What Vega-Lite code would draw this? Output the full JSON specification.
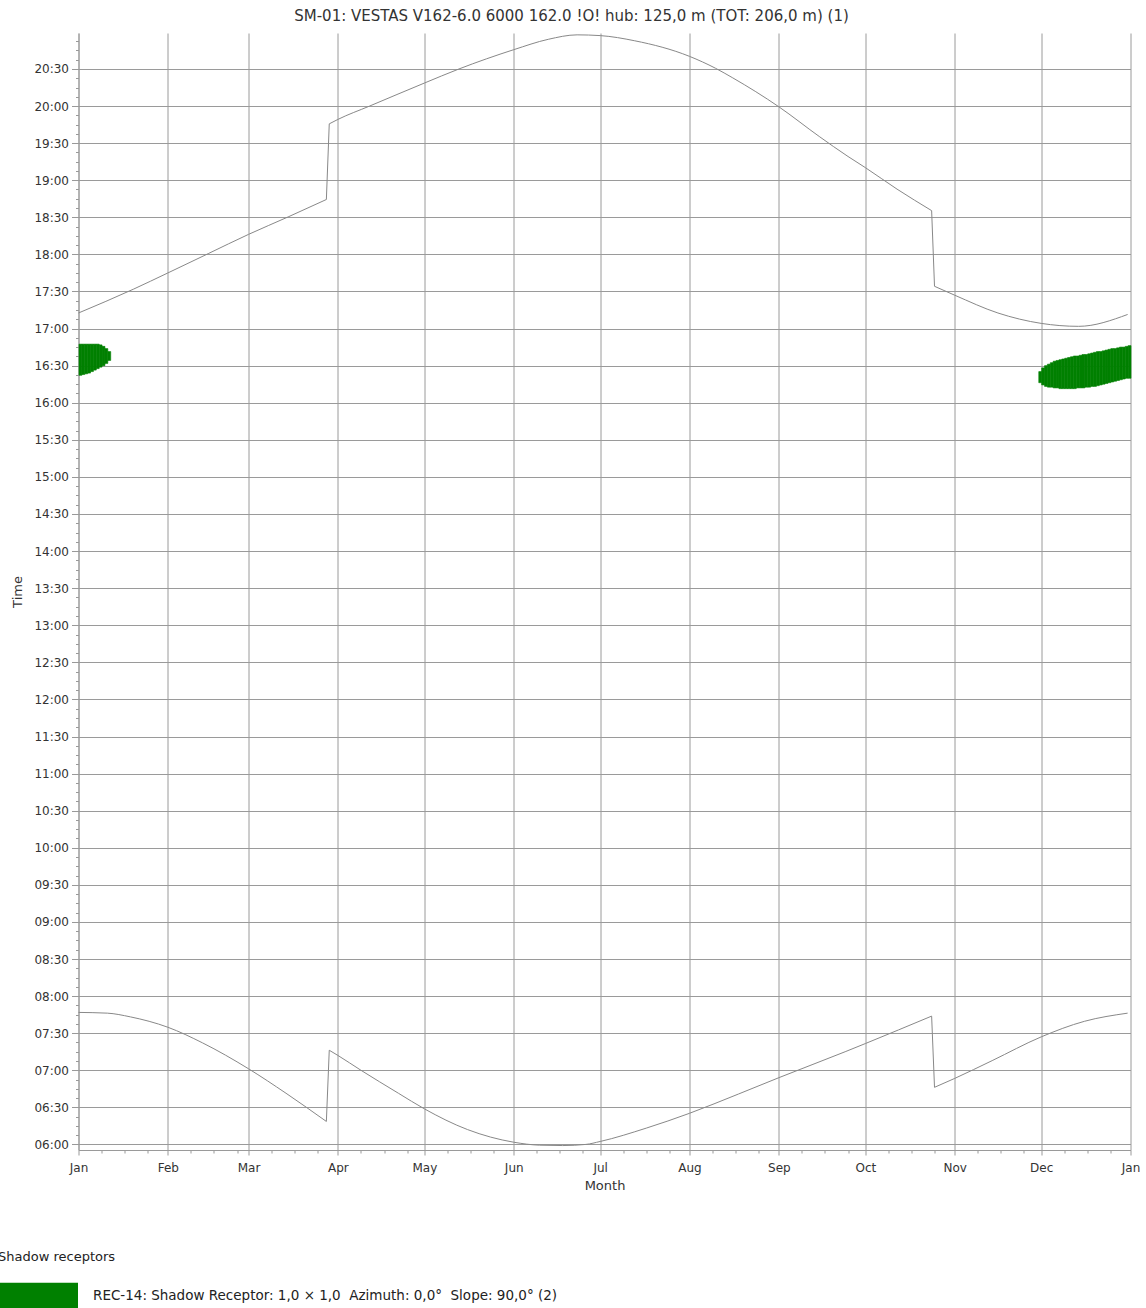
{
  "$schema": "https://vega.github.io/schema/vega-lite/v6.json",
  "width": 1052,
  "height": 1117,
  "autosize": {"type": "none"},
  "padding": {"left": 78.5, "top": 33, "right": 15.5, "bottom": 158},
  "background": "white",
  "config": {"view": {"stroke": null}},
  "title": {
    "text": "SM-01: VESTAS V162-6.0 6000 162.0 !O! hub: 125,0 m (TOT: 206,0 m) (1)",
    "font": "DejaVu Sans", "fontSize": 15, "fontWeight": "normal", "color": "#333333",
    "anchor": "middle", "dx": -33, "offset": 9
  },
  "datasets": {
    "shadow": [
      {"date": "2026-01-01", "start": 16.37, "end": 16.79},
      {"date": "2026-01-02", "start": 16.38, "end": 16.79},
      {"date": "2026-01-03", "start": 16.39, "end": 16.79},
      {"date": "2026-01-04", "start": 16.40, "end": 16.79},
      {"date": "2026-01-05", "start": 16.42, "end": 16.79},
      {"date": "2026-01-06", "start": 16.44, "end": 16.79},
      {"date": "2026-01-07", "start": 16.46, "end": 16.79},
      {"date": "2026-01-08", "start": 16.48, "end": 16.78},
      {"date": "2026-01-09", "start": 16.50, "end": 16.76},
      {"date": "2026-01-10", "start": 16.53, "end": 16.73},
      {"date": "2026-01-11", "start": 16.57, "end": 16.69},
      {"date": "2026-11-30", "start": 16.27, "end": 16.42},
      {"date": "2026-12-01", "start": 16.24, "end": 16.47},
      {"date": "2026-12-02", "start": 16.22, "end": 16.50},
      {"date": "2026-12-03", "start": 16.21, "end": 16.52},
      {"date": "2026-12-04", "start": 16.21, "end": 16.54},
      {"date": "2026-12-05", "start": 16.20, "end": 16.56},
      {"date": "2026-12-06", "start": 16.20, "end": 16.57},
      {"date": "2026-12-07", "start": 16.19, "end": 16.58},
      {"date": "2026-12-08", "start": 16.19, "end": 16.59},
      {"date": "2026-12-09", "start": 16.19, "end": 16.60},
      {"date": "2026-12-10", "start": 16.19, "end": 16.61},
      {"date": "2026-12-11", "start": 16.19, "end": 16.62},
      {"date": "2026-12-12", "start": 16.19, "end": 16.63},
      {"date": "2026-12-13", "start": 16.20, "end": 16.63},
      {"date": "2026-12-14", "start": 16.20, "end": 16.64},
      {"date": "2026-12-15", "start": 16.20, "end": 16.65},
      {"date": "2026-12-16", "start": 16.21, "end": 16.65},
      {"date": "2026-12-17", "start": 16.21, "end": 16.66},
      {"date": "2026-12-18", "start": 16.22, "end": 16.67},
      {"date": "2026-12-19", "start": 16.22, "end": 16.68},
      {"date": "2026-12-20", "start": 16.23, "end": 16.69},
      {"date": "2026-12-21", "start": 16.24, "end": 16.69},
      {"date": "2026-12-22", "start": 16.25, "end": 16.70},
      {"date": "2026-12-23", "start": 16.26, "end": 16.71},
      {"date": "2026-12-24", "start": 16.27, "end": 16.72},
      {"date": "2026-12-25", "start": 16.28, "end": 16.73},
      {"date": "2026-12-26", "start": 16.29, "end": 16.73},
      {"date": "2026-12-27", "start": 16.30, "end": 16.74},
      {"date": "2026-12-28", "start": 16.31, "end": 16.75},
      {"date": "2026-12-29", "start": 16.32, "end": 16.75},
      {"date": "2026-12-30", "start": 16.33, "end": 16.76},
      {"date": "2026-12-31", "start": 16.33, "end": 16.77}
    ],
    "sun": [
      {"s": "sunset-1", "date": "2026-01-01", "time": 17.21},
      {"s": "sunset-1", "date": "2026-01-20", "time": 17.53},
      {"s": "sunset-1", "date": "2026-02-01", "time": 17.75},
      {"s": "sunset-1", "date": "2026-02-15", "time": 18.01},
      {"s": "sunset-1", "date": "2026-03-01", "time": 18.27},
      {"s": "sunset-1", "date": "2026-03-15", "time": 18.51},
      {"s": "sunset-1", "date": "2026-03-28", "time": 18.74},
      {"s": "sunset-dst1", "date": "2026-03-28", "time": 18.74},
      {"s": "sunset-dst1", "date": "2026-03-29", "time": 19.76},
      {"s": "sunset-2", "date": "2026-03-29", "time": 19.76},
      {"s": "sunset-2", "date": "2026-04-01", "time": 19.82},
      {"s": "sunset-2", "date": "2026-04-12", "time": 20.00},
      {"s": "sunset-2", "date": "2026-05-01", "time": 20.31},
      {"s": "sunset-2", "date": "2026-05-13", "time": 20.50},
      {"s": "sunset-2", "date": "2026-06-01", "time": 20.76},
      {"s": "sunset-2", "date": "2026-06-13", "time": 20.90},
      {"s": "sunset-2", "date": "2026-06-23", "time": 20.96},
      {"s": "sunset-2", "date": "2026-07-01", "time": 20.95},
      {"s": "sunset-2", "date": "2026-07-13", "time": 20.88},
      {"s": "sunset-2", "date": "2026-08-01", "time": 20.67},
      {"s": "sunset-2", "date": "2026-08-10", "time": 20.51},
      {"s": "sunset-2", "date": "2026-08-16", "time": 20.38},
      {"s": "sunset-2", "date": "2026-09-01", "time": 19.99},
      {"s": "sunset-2", "date": "2026-09-15", "time": 19.59},
      {"s": "sunset-2", "date": "2026-09-25", "time": 19.32},
      {"s": "sunset-2", "date": "2026-10-01", "time": 19.17},
      {"s": "sunset-2", "date": "2026-10-12", "time": 18.88},
      {"s": "sunset-2", "date": "2026-10-24", "time": 18.59},
      {"s": "sunset-dst2", "date": "2026-10-24", "time": 18.59},
      {"s": "sunset-dst2", "date": "2026-10-25", "time": 17.57},
      {"s": "sunset-3", "date": "2026-10-25", "time": 17.57},
      {"s": "sunset-3", "date": "2026-11-01", "time": 17.45},
      {"s": "sunset-3", "date": "2026-11-16", "time": 17.21},
      {"s": "sunset-3", "date": "2026-12-01", "time": 17.07},
      {"s": "sunset-3", "date": "2026-12-14", "time": 17.03},
      {"s": "sunset-3", "date": "2026-12-31", "time": 17.19},
      {"s": "sunrise-1", "date": "2026-01-01", "time": 7.78},
      {"s": "sunrise-1", "date": "2026-01-11", "time": 7.77},
      {"s": "sunrise-1", "date": "2026-01-19", "time": 7.72},
      {"s": "sunrise-1", "date": "2026-02-01", "time": 7.58},
      {"s": "sunrise-1", "date": "2026-02-13", "time": 7.37},
      {"s": "sunrise-1", "date": "2026-03-01", "time": 7.02},
      {"s": "sunrise-1", "date": "2026-03-14", "time": 6.69},
      {"s": "sunrise-1", "date": "2026-03-28", "time": 6.31},
      {"s": "sunrise-dst1", "date": "2026-03-28", "time": 6.31},
      {"s": "sunrise-dst1", "date": "2026-03-29", "time": 7.27},
      {"s": "sunrise-2", "date": "2026-03-29", "time": 7.27},
      {"s": "sunrise-2", "date": "2026-04-01", "time": 7.20},
      {"s": "sunrise-2", "date": "2026-04-09", "time": 7.00},
      {"s": "sunrise-2", "date": "2026-04-22", "time": 6.69},
      {"s": "sunrise-2", "date": "2026-05-01", "time": 6.48},
      {"s": "sunrise-2", "date": "2026-05-16", "time": 6.20},
      {"s": "sunrise-2", "date": "2026-06-01", "time": 6.03},
      {"s": "sunrise-2", "date": "2026-06-10", "time": 5.99},
      {"s": "sunrise-2", "date": "2026-06-18", "time": 5.985},
      {"s": "sunrise-2", "date": "2026-06-26", "time": 6.00},
      {"s": "sunrise-2", "date": "2026-07-01", "time": 6.04},
      {"s": "sunrise-2", "date": "2026-07-17", "time": 6.22},
      {"s": "sunrise-2", "date": "2026-08-01", "time": 6.42},
      {"s": "sunrise-2", "date": "2026-08-18", "time": 6.68},
      {"s": "sunrise-2", "date": "2026-09-01", "time": 6.90},
      {"s": "sunrise-2", "date": "2026-09-24", "time": 7.25},
      {"s": "sunrise-2", "date": "2026-10-01", "time": 7.36},
      {"s": "sunrise-2", "date": "2026-10-24", "time": 7.73},
      {"s": "sunrise-dst2", "date": "2026-10-24", "time": 7.73},
      {"s": "sunrise-dst2", "date": "2026-10-25", "time": 6.77},
      {"s": "sunrise-3", "date": "2026-10-25", "time": 6.77},
      {"s": "sunrise-3", "date": "2026-11-01", "time": 6.89},
      {"s": "sunrise-3", "date": "2026-11-14", "time": 7.13},
      {"s": "sunrise-3", "date": "2026-12-01", "time": 7.45},
      {"s": "sunrise-3", "date": "2026-12-16", "time": 7.66},
      {"s": "sunrise-3", "date": "2026-12-31", "time": 7.77}
    ]
  },
  "layer": [
    {
      "data": {"name": "shadow"},
      "mark": {"type": "bar", "opacity": 1, "binSpacing": 0, "stroke": "#008000", "strokeWidth": 0.6},
      "encoding": {
        "x": {
          "field": "date", "type": "temporal", "timeUnit": "utcyearmonthdate",
          "scale": {"type": "utc", "domain": [1767225600000, 1798761600000], "nice": false},
          "axis": {
            "tickCount": {"interval": "day", "step": 8},
            "labelExpr": "utcdate(datum.value) == 1 ? utcFormat(datum.value, '%b') : ''",
            "labelOverlap": false,
            "labelFlush": false,
            "labelFont": "DejaVu Sans", "labelFontSize": 12, "labelColor": "#333333",
            "labelPadding": 7,
            "tickColor": "#999999",
            "tickSize": {"condition": {"test": "utcdate(datum.value) == 1", "value": 5}, "value": 3},
            "grid": true,
            "gridColor": "#9a9a9a",
            "gridOpacity": {"condition": {"test": "utcdate(datum.value) == 1", "value": 1}, "value": 0},
            "domain": true, "domainColor": "#9a9a9a",
            "title": "Month", "titleFont": "DejaVu Sans", "titleFontSize": 13, "titleFontWeight": "normal",
            "titleColor": "#333333", "titleY": 35, "titleBaseline": "middle"
          }
        },
        "y": {
          "field": "start", "type": "quantitative",
          "scale": {"domain": [5.925, 20.985], "nice": false, "zero": false},
          "axis": {
            "tickCount": 200,
            "values": [6,6.125,6.25,6.375,6.5,6.625,6.75,6.875,7,7.125,7.25,7.375,7.5,7.625,7.75,7.875,8,8.125,8.25,8.375,8.5,8.625,8.75,8.875,9,9.125,9.25,9.375,9.5,9.625,9.75,9.875,10,10.125,10.25,10.375,10.5,10.625,10.75,10.875,11,11.125,11.25,11.375,11.5,11.625,11.75,11.875,12,12.125,12.25,12.375,12.5,12.625,12.75,12.875,13,13.125,13.25,13.375,13.5,13.625,13.75,13.875,14,14.125,14.25,14.375,14.5,14.625,14.75,14.875,15,15.125,15.25,15.375,15.5,15.625,15.75,15.875,16,16.125,16.25,16.375,16.5,16.625,16.75,16.875,17,17.125,17.25,17.375,17.5,17.625,17.75,17.875,18,18.125,18.25,18.375,18.5,18.625,18.75,18.875,19,19.125,19.25,19.375,19.5,19.625,19.75,19.875,20,20.125,20.25,20.375,20.5,20.625,20.75,20.875],
            "labelExpr": "datum.value % 0.5 == 0 ? ((floor(datum.value) < 10 ? '0' : '') + floor(datum.value) + (datum.value % 1 == 0 ? ':00' : ':30')) : ''",
            "labelOverlap": false,
            "labelFont": "DejaVu Sans", "labelFontSize": 12, "labelColor": "#333333",
            "labelPadding": 3,
            "tickColor": "#999999",
            "tickSize": {"condition": {"test": "datum.value % 0.5 == 0", "value": 7}, "value": 3},
            "grid": true,
            "gridColor": "#9a9a9a",
            "gridOpacity": {"condition": {"test": "datum.value % 0.5 == 0", "value": 1}, "value": 0},
            "domain": true, "domainColor": "#9a9a9a",
            "title": "Time", "titleFont": "DejaVu Sans", "titleFontSize": 13, "titleFontWeight": "normal",
            "titleColor": "#333333", "titleX": -61, "titleY": 558.5, "titleAngle": 270,
            "titleAlign": "center", "titleBaseline": "middle"
          }
        },
        "y2": {"field": "end"},
        "color": {
          "datum": "REC-14: Shadow Receptor: 1,0 × 1,0 \u00a0Azimuth: 0,0° \u00a0Slope: 90,0° (2)",
          "type": "nominal",
          "scale": {"range": ["#008000"]},
          "legend": {
            "orient": "none", "legendX": -80.5, "legendY": 1218,
            "padding": 0,
            "title": "Shadow receptors", "titleFont": "DejaVu Sans", "titleFontSize": 13,
            "titleFontWeight": "normal", "titleColor": "#222222", "titlePadding": -8.5,
            "symbolType": "M-1,-0.321L1,-0.321L1,0.321L-1,0.321Z",
            "symbolSize": 6400,
            "symbolFillColor": "#008000", "symbolStrokeWidth": 0, "symbolOpacity": 1,
            "labelFont": "DejaVu Sans", "labelFontSize": 13.5, "labelColor": "#222222",
            "labelOffset": 15, "labelLimit": 0
          }
        }
      }
    },
    {
      "data": {"name": "sun"},
      "mark": {"type": "line", "color": "#888888", "strokeWidth": 1, "interpolate": "monotone"},
      "encoding": {
        "x": {
          "field": "date", "type": "temporal",
          "scale": {"type": "utc", "domain": [1767225600000, 1798761600000], "nice": false}
        },
        "y": {"field": "time", "type": "quantitative"},
        "detail": {"field": "s", "type": "nominal"}
      }
    }
  ]
}
